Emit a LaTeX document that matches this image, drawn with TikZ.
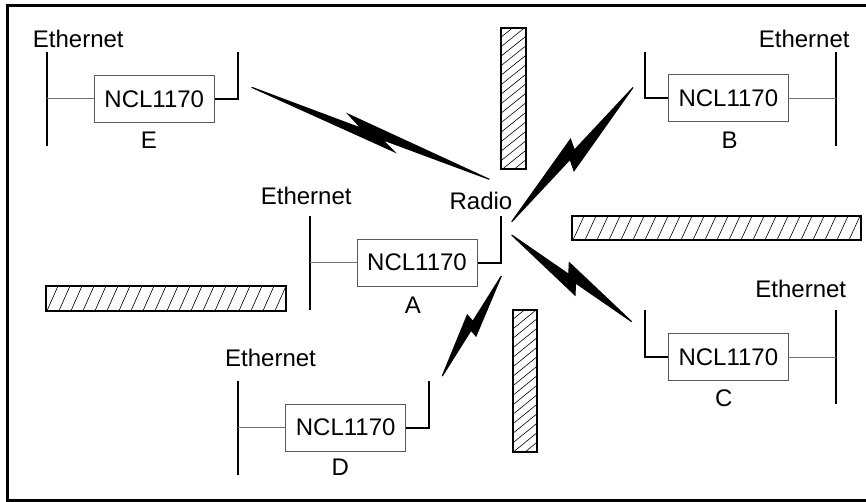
\documentclass[tikz,border=0pt]{standalone}
\usepackage{fontspec}
\setmainfont{Liberation Sans}
\newcommand\fs{\fontsize{24}{28}\selectfont}
\newcommand\zap[6]{\filldraw[bolt] (#1) -- (#2) -- (#3) -- (#4) -- (#5) -- (#6) -- cycle;}
\tikzset{
 ncl/.style={draw=black!65, line width=1pt, minimum width=120pt, minimum height=47pt, inner sep=0pt, font=\fs},
 lbl/.style={inner sep=0pt, font=\fs},
 bus/.style={line width=2pt},
 link/.style={line width=2pt},
 tap/.style={draw=black!55, line width=1pt},
 wall/.style={line width=1.8pt},
 hatch/.style={line width=0.6pt},
 bolt/.style={fill=black, draw=black, line width=1.1pt, line join=miter},
 frame/.style={line width=3pt},
}
\begin{document}
\begin{tikzpicture}[x=1pt,y=-1pt]
\useasboundingbox (0,0) rectangle (866,502);
\draw[frame] (866,5.3) -- (7.5,5.3) -- (7.5,500.7) -- (866,500.7);

% ---------- walls ----------
\begin{scope}
 \clip (501,27.7) rectangle (526,169.3);
 \foreach \k in {0,...,18} \draw[hatch] (501,{27.7+\k*9.5}) -- ++(25,-20);
\end{scope}
\draw[wall] (501,27.7) rectangle (526,169.3);

\begin{scope}
 \clip (512.7,310) rectangle (537.3,451.7);
 \foreach \k in {0,...,18} \draw[hatch] (512.7,{310+\k*9.5}) -- ++(24.6,-20);
\end{scope}
\draw[wall] (512.7,310) rectangle (537.3,451.7);

\begin{scope}
 \clip (46,286) rectangle (286,310.7);
 \foreach \k in {0,...,21} \draw[hatch] ({35+\k*12},310.7) -- ++(11,-24.7);
\end{scope}
\draw[wall] (46,286) rectangle (286,310.7);

\begin{scope}
 \clip (572.3,216) rectangle (860.7,240);
 \foreach \k in {0,...,25} \draw[hatch] ({561+\k*12},240) -- ++(11,-24);
\end{scope}
\draw[wall] (572.3,216) rectangle (860.7,240);

% ---------- units ----------
\node[ncl] (ncE) at (154.3,98.8) {NCL1170};
\node[ncl] (ncB) at (728.3,98.4) {NCL1170};
\node[ncl] (ncA) at (417,262.7) {NCL1170};
\node[ncl] (ncC) at (728.3,357) {NCL1170};
\node[ncl] (ncD) at (345.7,427.7) {NCL1170};

\node[lbl] (labE) at (148.8,140) {E};
\node[lbl] (labB) at (729.5,140) {B};
\node[lbl] (labA) at (412.8,305.5) {A};
\node[lbl] (labC) at (723.8,398.3) {C};
\node[lbl] (labD) at (340.2,466.8) {D};

\node[lbl] (ethE) at (78.3,39.2) {Ethernet};
\node[lbl] (ethB) at (804.2,39.2) {Ethernet};
\node[lbl] (ethA) at (306.2,195.5) {Ethernet};
\node[lbl] (ethC) at (800.8,289.2) {Ethernet};
\node[lbl] (ethD) at (270.5,357.5) {Ethernet};
\node[lbl] (radio) at (481,200.5) {Radio};

% ---------- ethernet buses ----------
\coordinate (busEt) at (46.7,51.7);  \coordinate (busEb) at (46.7,146);
\coordinate (busBt) at (835.7,51.7); \coordinate (busBb) at (835.7,146);
\coordinate (busAt) at (310,216);    \coordinate (busAb) at (310,310);
\coordinate (busCt) at (835.7,310);  \coordinate (busCb) at (835.7,404);
\coordinate (busDt) at (237.7,380.7);\coordinate (busDb) at (237.7,475.3);
\draw[bus] (busEt) -- (busEb);
\draw[bus] (busBt) -- (busBb);
\draw[bus] (busAt) -- (busAb);
\draw[bus] (busCt) -- (busCb);
\draw[bus] (busDt) -- (busDb);
\draw[tap] (ncE.west) -- (ncE.west -| busEt);
\draw[tap] (ncB.east) -- (ncB.east -| busBt);
\draw[tap] (ncA.west) -- (ncA.west -| busAt);
\draw[tap] (ncC.east) -- (ncC.east -| busCt);
\draw[tap] (ncD.west) -- (ncD.west -| busDt);

% ---------- radio antennas ----------
\coordinate (antE) at (238,51.7);
\coordinate (antB) at (645,51.7);
\coordinate (antA) at (501,216);
\coordinate (antC) at (645,310);
\coordinate (antD) at (429.3,380.7);
\draw[link] (ncE.east) -| (antE);
\draw[link] (ncB.west) -| (antB);
\draw[link] (ncA.east) -| (antA);
\draw[link] (ncC.west) -| (antC);
\draw[link] (ncD.east) -| (antD);

% ---------- radio links ----------
\zap{251.7,87.3}{394.3,151.7}{382,139.5}{489.3,179.3}{348.3,114.3}{361.2,128.3}
\zap{511.7,221.7}{570.5,139.3}{574.3,150.2}{633,87.5}{574,170.7}{570.1,159.3}
\zap{511.7,235}{575,295}{575.5,282.9}{631.7,321.7}{569.3,262.7}{568.8,274.4}
\zap{501.3,276}{476,336}{471.1,330.2}{442.3,376}{467.3,315}{472.8,321.4}
\end{tikzpicture}
\end{document}
